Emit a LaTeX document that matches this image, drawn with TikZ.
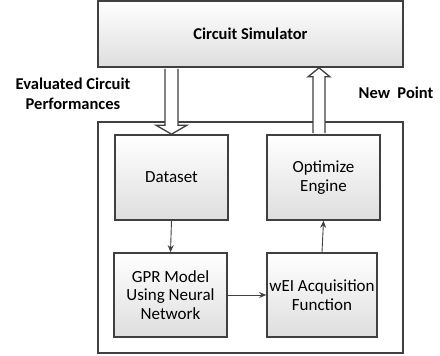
\documentclass[tikz,border=0pt]{standalone}
\usepackage{fontspec}
\setmainfont{Carlito}
\usetikzlibrary{arrows.meta,calc}

\begin{document}
\begin{tikzpicture}[x=1pt, y=-1pt, font=\fontsize{17}{18.5}\selectfont,
  blk/.style={draw=black!75, line width=1.6pt, top color=white, bottom color=black!13, align=center, minimum width=113pt, minimum height=85pt, inner sep=0pt},
  fat/.style={draw=black!75, line width=1.3pt, fill=white},
  link/.style={draw=black!75, line width=0.9pt, -{Stealth[length=7pt,width=6pt]}},
  lbl/.style={font=\bfseries\fontsize{16.5}{20}\selectfont, align=center}]
  \useasboundingbox (0,0) rectangle (440,356);
  % outer loop frame
  \draw[draw=black!75, line width=1.6pt, fill=white] (98,122) rectangle (403,353);
  \node[blk, minimum width=305pt, minimum height=66pt, font=\bfseries\fontsize{16.5}{18.5}\selectfont] (sim) at (250.5,34) {Circuit Simulator};
  \node[blk] (data) at (171.5,177.5) {Dataset};
  \node[blk] (optim) at (323.5,177.5) {Optimize\\Engine};
  \node[blk, minimum height=84pt] (gpr) at (170.5,295) {GPR Model\\Using Neural\\Network};
  \node[blk, minimum width=110pt, minimum height=84pt] (wei) at (322,295) {wEI Acquisition\\Function};

  % thin arrows inside the loop
  \draw[link] (data.south) -- (gpr.north);
  \draw[link] (gpr.east) -- (wei.west);
  \draw[link] (wei.north) -- (optim.south);

  % hollow arrows to and from the simulator
  \coordinate (dtop) at (sim.south -| data.north);
  \draw[fat] ($(dtop)+(-6.5,1)$) -- ($(data.north)+(-6.5,-9)$) -- ($(data.north)+(-15.5,-9)$) -- (data.north)
    -- ($(data.north)+(15.5,-9)$) -- ($(data.north)+(6.5,-9)$) -- ($(dtop)+(6.5,1)$);
  \coordinate (ubot) at ($(optim.north)+(-4.5,-1)$);
  \coordinate (utip) at (sim.south -| ubot);
  \draw[fat] (ubot) ++(-6,0) -- ($(utip)+(-6,9)$) -- ($(utip)+(-11,9)$) -- (utip)
    -- ($(utip)+(11,9)$) -- ($(utip)+(6,9)$) -- ($(ubot)+(6,0)$);

  \node[lbl] (perf) at (73,94) {Evaluated Circuit\\Performances};
  \node[lbl] (newpt) at (396,93) {New\ \ Point};
\end{tikzpicture}
\end{document}
